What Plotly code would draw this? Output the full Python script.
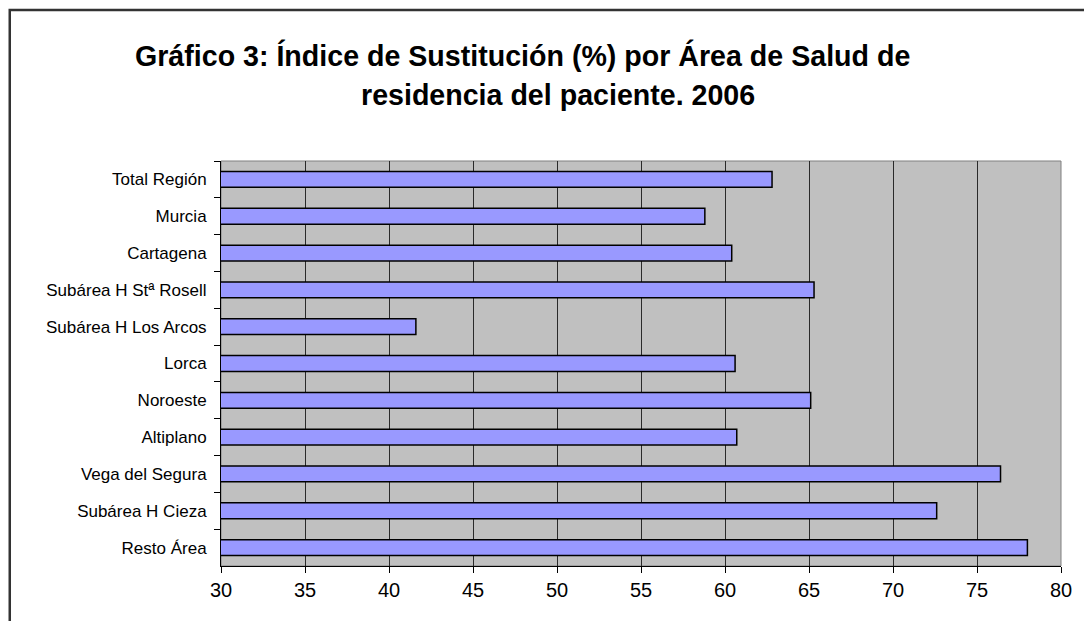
import plotly.graph_objects as go

categories = ["Total Región", "Murcia", "Cartagena", "Subárea H Stª Rosell",
              "Subárea H Los Arcos", "Lorca", "Noroeste", "Altiplano",
              "Vega del Segura", "Subárea H Cieza", "Resto Área"]
values = [62.8, 58.8, 60.4, 65.3, 41.6, 60.6, 65.1, 60.7, 76.4, 72.6, 78.0]
x_ticks = [30, 35, 40, 45, 50, 55, 60, 65, 70, 75, 80]
title_line1 = "Gráfico 3: Índice de Sustitución (%) por Área de Salud de"
title_line2 = "residencia del paciente. 2006"

W, H = 1084, 621
L, R, T, B = 221, 20, 161, 55
pw, ph = W - L - R, H - T - B

def px_x(p):
    return (p - L) / pw

def px_y(p):
    return (H - B - p) / ph

FONT = "Liberation Sans, Arial, sans-serif"

fig = go.Figure()
fig.add_trace(go.Bar(
    x=values, y=categories, orientation="h",
    marker=dict(color="#9999FF", line=dict(color="#000000", width=1.5)),
    width=0.43, hoverinfo="x+y",
))

fig.update_layout(
    width=W, height=H,
    margin=dict(l=L, r=R, t=T, b=B, pad=0),
    paper_bgcolor="white",
    plot_bgcolor="#C0C0C0",
    showlegend=False,
    font=dict(family=FONT, color="black"),
    xaxis=dict(
        range=[30, 80], tickvals=x_ticks, ticktext=[str(t) for t in x_ticks],
        showgrid=True, gridcolor="#2a2a2a", gridwidth=1,
        ticks="outside", ticklen=6, tickcolor="black", tickwidth=1,
        showline=True, linecolor="black", linewidth=1,
        tickfont=dict(size=20, family=FONT),
        zeroline=False, fixedrange=True,
    ),
    yaxis=dict(
        categoryorder="array", categoryarray=categories, autorange="reversed",
        showgrid=False, ticks="outside", ticklen=6, tickcolor="black",
        tickson="boundaries",
        showline=True, linecolor="black", linewidth=1,
        tickfont=dict(size=17, family=FONT),
        ticklabelstandoff=10,
        fixedrange=True,
    ),
    shapes=[
        dict(type="rect", xref="paper", yref="paper", x0=0, x1=1, y0=0, y1=1,
             line=dict(color="#808080", width=1), layer="below"),
        dict(type="rect", xref="paper", yref="paper",
             x0=px_x(9), x1=px_x(1100), y0=px_y(640), y1=px_y(10),
             line=dict(color="#333333", width=2.5)),
    ],
    annotations=[
        dict(text="<b>" + title_line1 + "</b>", xref="paper", yref="paper",
             x=px_x(524), y=px_y(55), xanchor="center", yanchor="middle",
             showarrow=False, font=dict(size=28.6, family=FONT)),
        dict(text="<b>" + title_line2 + "</b>", xref="paper", yref="paper",
             x=px_x(559), y=px_y(95), xanchor="center", yanchor="middle",
             showarrow=False, font=dict(size=28.6, family=FONT)),
    ],
)

fig.write_html("out.html",
               config={"displayModeBar": False},
               post_script="document.body.style.margin='0';document.body.style.overflow='hidden';")
